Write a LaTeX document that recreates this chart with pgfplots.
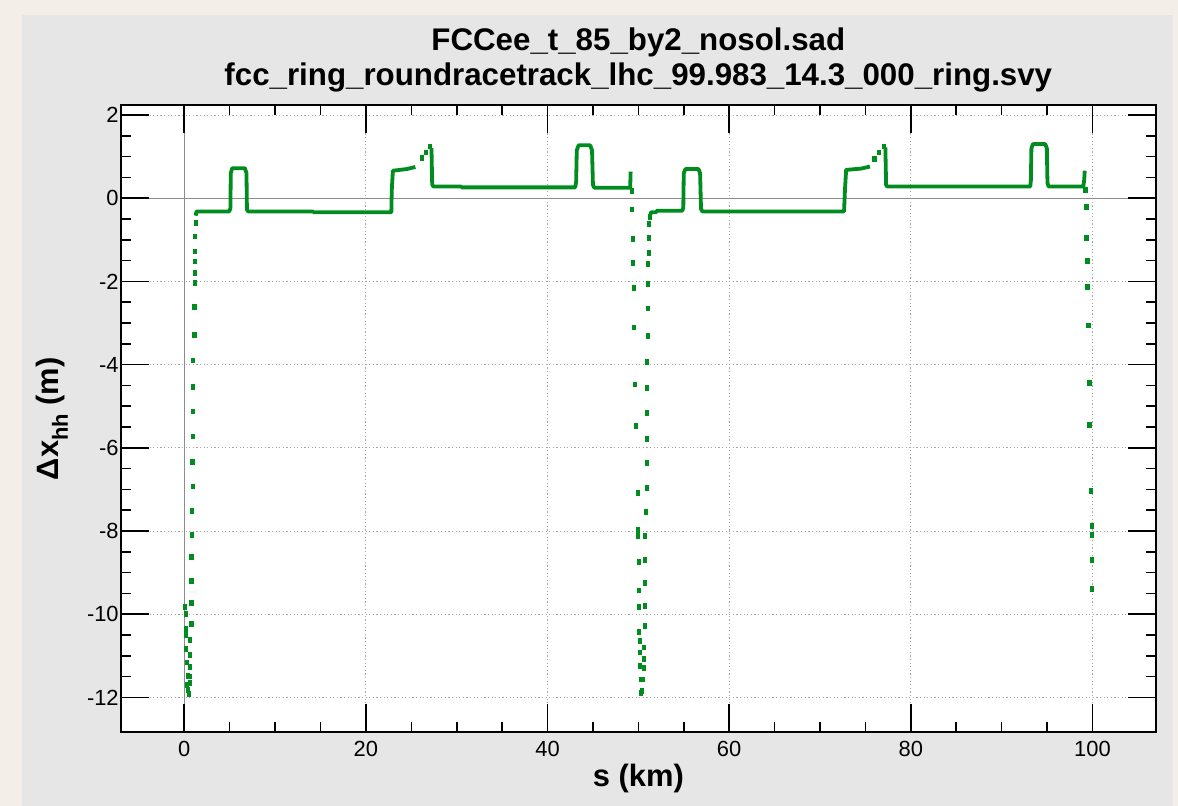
\documentclass[border=0pt]{standalone}
\usepackage{fontspec}
\setmainfont{Liberation Sans}
\usepackage{pgfplots}
\pgfplotsset{compat=1.18}
\definecolor{bgbeige}{RGB}{243,239,232}
\definecolor{panelgray}{RGB}{230,230,230}
\definecolor{dgreen}{RGB}{0,140,30}
\begin{document}
\begin{tikzpicture}
\fill[bgbeige] (0,0) rectangle (1178bp,806bp);
\fill[panelgray] (22bp,0) rectangle (1173bp,791bp);
\begin{axis}[
  at={(120.7bp,73.7bp)}, anchor=south west,
  width=1035.3bp, height=627.3bp, scale only axis,
  xmin=-7, xmax=107, ymin=-12.84, ymax=2.24,
  axis background/.style={fill=white},
  xtick={0,20,...,100}, ytick={-12,-10,...,2},
  minor x tick num=3, minor y tick num=3,
  tick align=inside,
  major tick length=28bp, minor tick length=10bp,
  every tick/.style={line width=1.6bp, black},
  axis line style={line width=1.6bp},
  grid=major,
  major grid style={dash pattern=on 1.2bp off 2.4bp, gray!70, line width=0.9bp},
  extra x ticks={0}, extra y ticks={0},
  extra x tick labels={}, extra y tick labels={},
  extra tick style={major grid style={solid, draw=black!45, line width=1.2bp}},
  /pgf/number format/assume math mode=true,
  tick label style={font=\fontsize{22}{26}\selectfont},
  xticklabel style={anchor=base, yshift=-23.7bp},
  yticklabel style={xshift=1.5bp},
  title={FCCee\_t\_85\_by2\_nosol.sad\\fcc\_ring\_roundracetrack\_lhc\_99.983\_14.3\_000\_ring.svy},
  title style={at={(0.5,1)}, anchor=south, yshift=6.5bp, align=center, inner sep=0pt, font=\bfseries\fontsize{31.4}{35}\selectfont},
  xlabel={s (km)},
  xlabel style={at={(0.5,0)}, anchor=base, yshift=-54.5bp, inner sep=0pt, font=\bfseries\fontsize{31}{35}\selectfont},
  ylabel={Δx\raisebox{-0.3em}{\fontsize{22}{22}\selectfont hh} (m)},
  ylabel style={at={(-0.0664,0.5)}, anchor=center, inner sep=0pt, font=\bfseries\fontsize{31}{35}\selectfont},
  unbounded coords=jump,
]
% dense portions of the orbit difference
\addplot[dgreen, line width=3.8bp, line join=round, no markers] coordinates {
(1.25,-0.42) (1.35,-0.32) (4.95,-0.32) (5.08,-0.24) (5.12,0.60) (5.28,0.72) (6.68,0.72) (6.85,0.60) (6.90,-0.28) (7.05,-0.32)
(14.2,-0.32) (14.2,-0.34) (22.80,-0.34) (22.85,0.20) (22.97,0.66) (24.5,0.70) (25.45,0.75)
(25.5,nan)
(27.22,1.20) (27.30,0.32) (27.45,0.28) (30.5,0.28) (30.5,0.26) (43.05,0.26) (43.15,0.40) (43.22,1.15) (43.42,1.27) (44.70,1.27) (44.90,1.15) (45.00,0.32) (45.15,0.25) (49.10,0.25) (49.15,0.64)
(49.2,nan)
(51.28,-0.42) (51.40,-0.34) (52.0,-0.34) (52.0,-0.30) (54.85,-0.30) (54.95,-0.22) (55.00,0.60) (55.18,0.70) (56.62,0.70) (56.80,0.60) (56.90,-0.26) (57.05,-0.32)
(72.65,-0.32) (72.75,0.20) (72.88,0.68) (74.5,0.71) (75.5,0.76)
(75.6,nan)
(77.20,1.22) (77.28,0.32) (77.40,0.28) (93.15,0.28) (93.22,0.42) (93.28,1.20) (93.45,1.30) (94.80,1.30) (94.98,1.20) (95.05,0.36) (95.18,0.28) (99.00,0.28) (99.10,0.45) (99.15,0.66)
};
% sparse points
\addplot[only marks, mark=square*, mark size=1.6bp,
  mark options={fill=dgreen, draw=dgreen, line width=0pt, yscale=1.5}] coordinates {
(0.04,-9.82) (0.22,-10.00) (0.18,-10.35) (0.18,-10.50) (0.22,-10.84) (0.29,-11.16) (0.37,-11.48) (0.29,-11.70) (0.45,-11.82) (0.50,-11.92)
(0.59,-11.66) (0.66,-11.50) (0.66,-11.27) (0.66,-10.98) (0.66,-10.63) (0.80,-10.23) (0.80,-9.74) (0.80,-9.20) (0.80,-8.63)
(0.88,-8.09) (0.88,-7.52) (0.92,-6.93) (0.90,-6.35) (1.00,-5.73) (1.00,-5.13) (1.00,-4.53) (1.00,-3.90) (1.12,-3.29) (1.12,-2.62)
(1.15,-2.03) (1.20,-1.80) (1.20,-1.52) (1.22,-1.28) (1.22,-0.92) (1.25,-0.60)
(26.18,0.96) (26.65,1.10) (27.10,1.24)
(49.28,0.18) (49.30,-0.27) (49.45,-0.98) (49.45,-1.56) (49.52,-2.15) (49.56,-3.11) (49.67,-4.48) (49.78,-5.48) (49.93,-7.09) (49.93,-7.98)
(49.96,-8.12) (50.04,-8.74) (50.04,-9.43) (50.04,-9.82) (50.11,-10.42) (50.15,-10.65) (50.18,-10.92) (50.22,-11.24) (50.29,-11.57) (50.29,-11.89)
(50.38,-11.85) (50.47,-11.57) (50.58,-11.30) (50.66,-11.07) (50.66,-10.80) (50.70,-10.28) (50.73,-9.80) (50.77,-9.25) (50.77,-8.70) (50.77,-8.12)
(50.84,-7.55) (50.92,-6.97) (50.92,-6.37) (50.92,-5.78) (50.92,-5.17) (50.99,-4.57) (50.99,-3.94) (51.03,-3.31) (51.03,-2.65) (51.10,-2.07)
(51.10,-1.58) (51.14,-1.31) (51.17,-0.96) (51.21,-0.62) (51.25,-0.46)
(76.00,0.94) (76.54,1.10) (77.02,1.24)
(99.23,0.20) (99.34,-0.22) (99.34,-0.96) (99.45,-1.51) (99.45,-2.13) (99.56,-3.06) (99.67,-4.44) (99.67,-5.46) (99.81,-7.04) (99.93,-7.89)
(99.93,-8.10) (99.93,-8.70) (99.93,-9.39)
};
\end{axis}
\end{tikzpicture}
\end{document}
